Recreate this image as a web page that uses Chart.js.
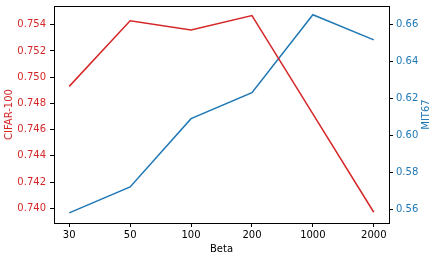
<!DOCTYPE html>
<html>
<head>
<meta charset="utf-8">
<script src="https://cdn.jsdelivr.net/npm/chart.js@4"></script>
<style>
  html, body { margin: 0; padding: 0; background: #fff; }
  #wrap { width: 432px; height: 259px; }
</style>
</head>
<body>
<div id="wrap"><canvas id="chart" width="432" height="259"></canvas></div>
<script>
const betas = ['30', '50', '100', '200', '1000', '2000'];
const cifar = [0.7493, 0.7543, 0.7536, 0.7547, 0.7472, 0.7397];
const mit67 = [0.5582, 0.5722, 0.6090, 0.6230, 0.6650, 0.6515];
const cifarTicks = [0.740, 0.742, 0.744, 0.746, 0.748, 0.750, 0.752, 0.754];
const mitTicks = [0.56, 0.58, 0.60, 0.62, 0.64, 0.66];

const RED = '#d62728';
const BLUE = '#1f77b4';
const FONT = { family: 'DejaVu Sans', size: 10 };

// caja negra + titulos de ejes (ambos verticales leidos de abajo hacia arriba)
const frame = {
    id: 'frame',
    afterDraw(chart) {
        const a = chart.chartArea, c = chart.ctx;
        c.save();
        c.strokeStyle = '#000';
        c.lineWidth = 1;
        c.strokeRect(Math.round(a.left) + 0.5, Math.round(a.top) + 0.5,
            Math.round(a.right - a.left), Math.round(a.bottom - a.top));

        c.font = '10px "DejaVu Sans"';
        c.textAlign = 'center';
        c.fillStyle = '#000';
        c.textBaseline = 'alphabetic';
        c.fillText('Beta', (a.left + a.right) / 2, 252);

        const midY = (a.top + a.bottom) / 2;
        c.textBaseline = 'middle';
        [[9, 'CIFAR-100', RED], [426.5, 'MIT67', BLUE]].forEach(([x, txt, col]) => {
            c.save();
            c.translate(x, midY);
            c.rotate(-Math.PI / 2);
            c.fillStyle = col;
            c.fillText(txt, 0, 0);
            c.restore();
        });
        c.restore();
    }
};

const fixTicks = list => scale => { scale.ticks = list.map(v => ({ value: v })); };
// tamaño fijo del eje, sin relleno automatico por las etiquetas
const fixSize = (prop, val) => s => {
    s[prop] = val;
    s.paddingTop = 0; s.paddingBottom = 0; s.paddingLeft = 0; s.paddingRight = 0;
};

new Chart(document.getElementById('chart'), {
    type: 'line',
    data: {
        datasets: [
            { label: 'CIFAR-100', data: cifar.map((v, i) => ({ x: i, y: v })), yAxisID: 'y',
              borderColor: RED, borderWidth: 1.5, pointRadius: 0, tension: 0 },
            { label: 'MIT67', data: mit67.map((v, i) => ({ x: i, y: v })), yAxisID: 'y1',
              borderColor: BLUE, borderWidth: 1.5, pointRadius: 0, tension: 0 }
        ]
    },
    options: {
        responsive: false,
        animation: false,
        layout: { autoPadding: false, padding: { top: 6, left: 0, right: 0, bottom: 0 } },
        plugins: { legend: { display: false }, tooltip: { enabled: false } },
        scales: {
            x: {
                type: 'linear', min: -0.25, max: 5.25,
                afterBuildTicks: fixTicks([0, 1, 2, 3, 4, 5]),
                afterFit: fixSize('height', 36),
                grid: { drawOnChartArea: false, tickLength: 4, color: '#000' },
                border: { display: false },
                ticks: { color: '#000', font: FONT, padding: 2, maxRotation: 0,
                         callback: v => betas[v] }
            },
            y: {
                position: 'left', min: 0.73888, max: 0.75543,
                afterBuildTicks: fixTicks(cifarTicks),
                afterFit: fixSize('width', 54),
                grid: { drawOnChartArea: false, tickLength: 4, color: '#000' },
                border: { display: false },
                ticks: { color: RED, font: FONT, padding: 4, callback: v => v.toFixed(3) }
            },
            y1: {
                position: 'right', min: 0.55276, max: 0.66973,
                afterBuildTicks: fixTicks(mitTicks),
                afterFit: fixSize('width', 43),
                grid: { drawOnChartArea: false, tickLength: 4, color: '#000' },
                border: { display: false },
                ticks: { color: BLUE, font: FONT, padding: 3, callback: v => v.toFixed(2) }
            }
        }
    },
    plugins: [frame]
});
</script>
</body>
</html>
